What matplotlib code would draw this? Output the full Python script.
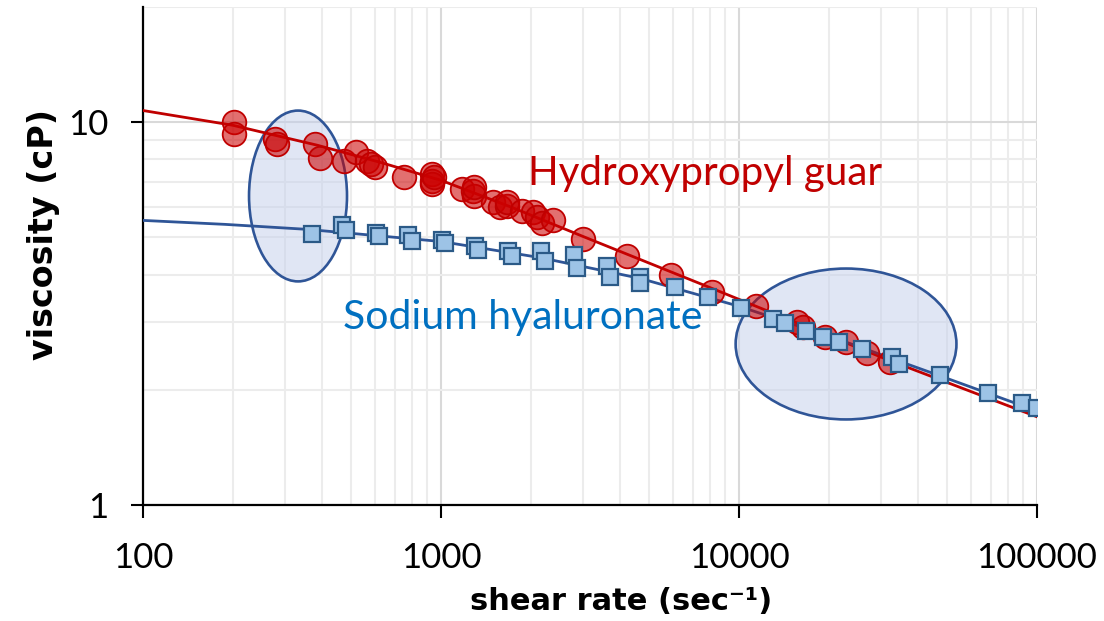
import matplotlib
matplotlib.use("Agg")
import matplotlib.pyplot as plt
from matplotlib import ticker
from matplotlib.patches import Ellipse

# Hydroxypropyl guar measurements: shear rate (1/s) and viscosity (cP)
guar_rate = [202, 202, 277, 282, 378, 393, 472, 518, 565, 582, 601, 751,
             933, 933, 933, 945, 1175, 1279, 1290, 1290, 1493, 1578, 1665,
             1665, 1869, 2036, 2100, 2183, 2377, 3000, 4210, 5910, 8110,
             11400, 15670, 16410, 19450, 22870, 26900, 32140]
guar_visc = [10.0, 9.30, 9.03, 8.76, 8.76, 8.05, 7.91, 8.35, 7.91, 7.76,
             7.62, 7.18, 7.31, 7.01, 6.88, 7.18, 6.68, 6.60, 6.40, 6.76,
             6.17, 5.99, 6.03, 6.17, 5.85, 5.81, 5.64, 5.47, 5.57, 4.94,
             4.46, 4.00, 3.61, 3.32, 3.01, 2.91, 2.75, 2.66, 2.50, 2.37]

# Sodium hyaluronate measurements
ha_rate = [369, 466, 480, 605, 619, 775, 799, 1007, 1031, 1300, 1330, 1678,
           1730, 2167, 2235, 2795, 2860, 3603, 3687, 4652, 4652, 6095, 7870,
           10160, 13000, 14260, 16780, 19140, 21660, 25870, 32620, 34420,
           47230, 68500, 89100, 100000]
ha_visc = [5.12, 5.38, 5.22, 5.15, 5.03, 5.06, 4.88, 4.91, 4.85, 4.74, 4.65,
           4.60, 4.46, 4.60, 4.35, 4.49, 4.17, 4.22, 3.93, 3.95, 3.81, 3.72,
           3.50, 3.28, 3.07, 2.98, 2.84, 2.75, 2.66, 2.55, 2.43, 2.34, 2.18,
           1.96, 1.85, 1.79]

# Fitted model curves
guar_fit_rate = [100, 200, 384, 624, 1000, 1731, 2996, 8118, 31380, 100000]
guar_fit_visc = [10.73, 9.82, 8.71, 7.86, 7.05, 5.99, 5.03, 3.68, 2.40, 1.70]
ha_fit_rate = [100, 188, 355, 1000, 2148, 4650, 10070, 21800, 46100, 100000]
ha_fit_visc = [5.54, 5.41, 5.25, 4.88, 4.43, 3.91, 3.30, 2.70, 2.19, 1.76]

x_ticks = [100, 1000, 10000, 100000]
x_tick_labels = ["100", "1000", "10000", "100000"]
y_ticks = [1, 10]
y_tick_labels = ["1", "10"]

RED = "#c00000"
BLUE_LINE = "#2f5597"
BLUE_TEXT = "#0070c0"

fig = plt.figure(figsize=(11.04, 6.21), dpi=100)
ax = fig.add_axes([143 / 1104, 116 / 621, 894 / 1104, 498 / 621])
ax.set_xscale("log")
ax.set_yscale("log")
ax.set_xlim(100, 100000)
ax.set_ylim(1, 20)

# grid
ax.xaxis.set_minor_locator(ticker.LogLocator(base=10, subs=range(2, 10)))
ax.yaxis.set_minor_locator(ticker.LogLocator(base=10, subs=range(2, 10)))
ax.xaxis.set_minor_formatter(ticker.NullFormatter())
ax.yaxis.set_minor_formatter(ticker.NullFormatter())
ax.grid(which="major", color="#d9d9d9", lw=1.5, zorder=0)
ax.grid(which="minor", color="#ececec", lw=1.5, zorder=0)
ax.set_axisbelow(True)

ax.set_xticks(x_ticks)
ax.set_xticklabels(x_tick_labels)
ax.set_yticks(y_ticks)
ax.set_yticklabels(y_tick_labels)
ax.tick_params(which="minor", length=0)
ax.tick_params(which="major", direction="out", length=9, width=1.5,
               labelsize=25, colors="black")
ax.tick_params(axis="x", pad=18)
ax.tick_params(axis="y", pad=16)
for lab in ax.get_xticklabels() + ax.get_yticklabels():
    lab.set_fontfamily("Lato")

for side in ("top", "right"):
    ax.spines[side].set_visible(False)
for side in ("left", "bottom"):
    ax.spines[side].set_linewidth(1.6)
    ax.spines[side].set_color("black")

# highlighted regions
for (cx, cy, w, h) in [(0.1734, 0.6205, 0.1096, 0.343),
                       (0.7864, 0.3233, 0.247, 0.303)]:
    ax.add_patch(Ellipse((cx, cy), w, h, transform=ax.transAxes,
                         facecolor=(0.765, 0.812, 0.922, 0.5),
                         edgecolor=BLUE_LINE, lw=1.9, zorder=2))

# fits
ax.plot(guar_fit_rate, guar_fit_visc, color=RED, lw=2.0, zorder=3,
        solid_joinstyle="round")
ax.plot(ha_fit_rate, ha_fit_visc, color=BLUE_LINE, lw=2.0, zorder=3,
        solid_joinstyle="round")

# measurements
ax.plot(guar_rate, guar_visc, linestyle="none", marker="o", markersize=17,
        markerfacecolor=(0.80, 0.0, 0.0, 0.56), markeredgecolor=RED,
        markeredgewidth=1.3, zorder=4)
ax.plot(ha_rate, ha_visc, linestyle="none", marker="s", markersize=11.5,
        markerfacecolor="#9dc3e6", markeredgecolor="#2b5a87",
        markeredgewidth=1.6, zorder=5)

# series labels
ax.text(0.4306, 0.6426, "Hydroxypropyl guar", transform=ax.transAxes,
        color=RED, fontsize=29, family="Lato", ha="left", va="baseline")
ax.text(0.2237, 0.3534, "Sodium hyaluronate", transform=ax.transAxes,
        color=BLUE_TEXT, fontsize=29.5, family="Lato", ha="left",
        va="baseline")

# axis titles
fig.text(621 / 1104, (621 - 610) / 621, "shear rate (sec\u207b\u00b9)",
         ha="center", va="baseline", fontsize=22, fontweight="bold",
         family="DejaVu Sans")
fig.text(44 / 1104, 1 - 235 / 621, "viscosity (cP)", rotation=90,
         ha="center", va="center", fontsize=24, fontweight="bold",
         family="DejaVu Sans")

fig.savefig("out.png", dpi=100)
